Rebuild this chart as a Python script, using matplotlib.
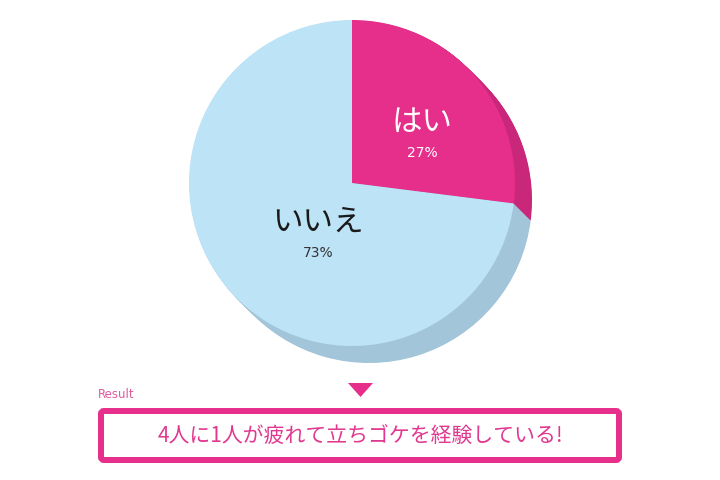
import matplotlib
matplotlib.use("Agg")
import matplotlib.pyplot as plt
from matplotlib.patches import FancyBboxPatch, Polygon

plt.rcParams['font.family'] = ['Noto Sans CJK JP', 'DejaVu Sans']

# Data
labels = ["はい", "いいえ"]
shares = [27, 73]
top_colors = ["#E62E8B", "#BDE3F7"]
side_colors = ["#C8277A", "#A3C5DA"]
label_colors = ["white", "#1A1A1A"]
pct_colors = ["white", "#333333"]
result_text = "4人に1人が疲れて立ちゴケを経験している!"

W, H = 720, 480
CX, CY = 352, H - 183
R = 163
DEPTH_X, DEPTH_Y = 17, 17
STEPS = 30


def main():
    fig = plt.figure(figsize=(7.2, 4.8), dpi=100)
    ax = fig.add_axes([0, 0, 1, 1])

    # extruded side of the pie: stack shifted copies
    for i in range(STEPS, 0, -1):
        dx = DEPTH_X * i / STEPS
        dy = DEPTH_Y * i / STEPS
        ax.pie(shares, colors=side_colors, startangle=90, counterclock=False,
               center=(CX + dx, CY - dy), radius=R, frame=True,
               wedgeprops=dict(linewidth=0))

    # top face
    ax.pie(shares, colors=top_colors, startangle=90, counterclock=False,
           center=(CX, CY), radius=R, frame=True,
           wedgeprops=dict(linewidth=0))

    # labels
    label_pos = [(422, 122), (318, 222)]
    for lab, val, (px, py), lc, pc in zip(labels, shares, label_pos,
                                          label_colors, pct_colors):
        ax.text(px, H - py, lab, ha="center", va="center", fontsize=22,
                color=lc)
        ax.text(px, H - py - 31, f"{val}%", ha="center", va="center",
                fontsize=10, color=pc, family="DejaVu Sans")

    # result marker and box
    pink = "#E62E8B"
    ax.add_patch(Polygon([(348, H - 383), (373, H - 383), (360.5, H - 397)],
                         closed=True, color=pink, linewidth=0))
    ax.text(98, H - 395, "Result", ha="left", va="center", fontsize=8.5,
            color="#E05A9E", family="DejaVu Sans")
    ax.add_patch(FancyBboxPatch((101, H - 460), 518, 49,
                                boxstyle="round,pad=0,rounding_size=3",
                                facecolor="white", edgecolor=pink,
                                linewidth=4.3))
    ax.text(360, H - 436, result_text, ha="center", va="center",
            fontsize=15, color="#E0388F")

    ax.set_xlim(0, W)
    ax.set_ylim(0, H)
    ax.set_aspect("equal")
    ax.axis("off")

    fig.savefig("out.png", dpi=100)


if __name__ == "__main__":
    main()
